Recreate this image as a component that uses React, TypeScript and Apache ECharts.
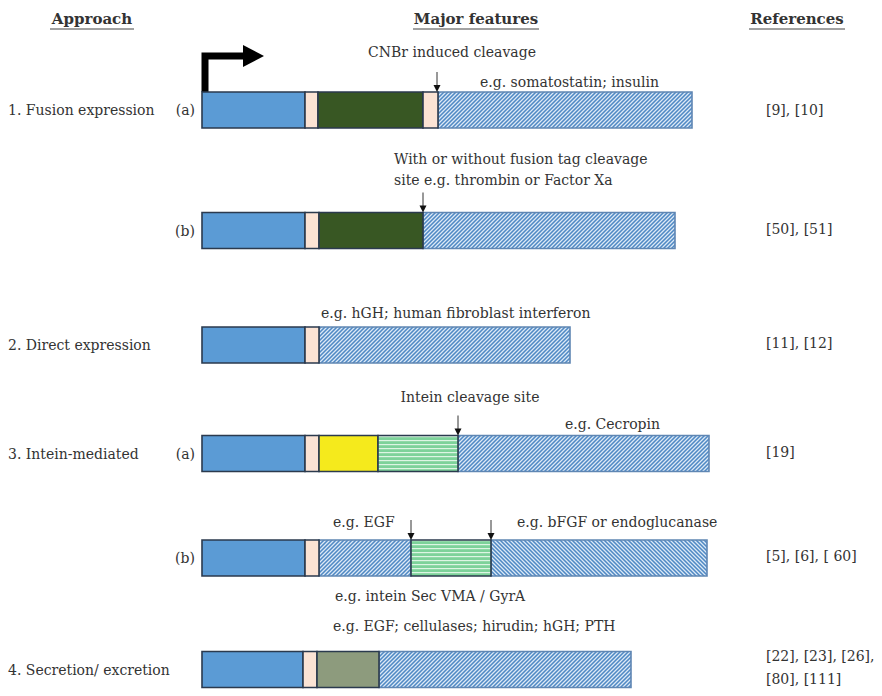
import React, { useEffect, useRef } from "react";
import * as echarts from "echarts";

// ---------- content ----------
const headers = ["Approach", "Major features", "References"];
const approachLabels = ["1. Fusion expression", "2. Direct expression", "3. Intein-mediated", "4. Secretion/ excretion"];
const approachRows = [0, 2, 3, 5];
const variantLabels = ["(a)", "(b)", "", "(a)", "(b)", ""];
const referenceLabels = ["[9], [10]", "[50], [51]", "[11], [12]", "[19]", "[5], [6], [ 60]", "[22], [23], [26],\n[80], [111]"];
const featureNotes = [
  "CNBr induced cleavage",
  "e.g. somatostatin; insulin",
  "With or without fusion tag cleavage\nsite e.g. thrombin or Factor Xa",
  "e.g. hGH; human fibroblast interferon",
  "Intein cleavage site",
  "e.g. Cecropin",
  "e.g. EGF",
  "e.g. bFGF or endoglucanase",
  "e.g. intein Sec VMA / GyrA",
  "e.g. EGF; cellulases; hirudin; hGH; PTH",
];

// segment kinds
const kinds = ["carrier", "linker", "fusion", "target", "tag", "intein", "targetRev", "signal"];

// construct segments per row: [kind, length in construct units]
const row1a: [string, number][] = [["carrier", 103], ["linker", 13], ["fusion", 105], ["linker", 15], ["target", 254]];
const row1b: [string, number][] = [["carrier", 103], ["linker", 14], ["fusion", 104], ["target", 252]];
const row2: [string, number][] = [["carrier", 103], ["linker", 14], ["target", 251]];
const row3a: [string, number][] = [["carrier", 103], ["linker", 14], ["tag", 59], ["intein", 80], ["target", 251]];
const row3b: [string, number][] = [["carrier", 103], ["linker", 14], ["target", 92], ["intein", 80], ["targetRev", 216]];
const row4: [string, number][] = [["carrier", 101], ["linker", 14], ["signal", 62], ["target", 252]];
const constructs = [row1a, row1b, row2, row3a, row3b, row4];

// cleavage sites: [row, position in construct units]
const cleavageSites: [number, number][] = [[0, 235], [1, 221], [3, 256], [4, 209], [4, 289]];

// ---------- layout ----------
const W = 882;
const H = 696;
const BAR_LEFT = 202;
const BAR_H = 36;
const rowCenters = [110, 230.5, 345, 453.5, 558, 669.5];
const headerPos: [number, number, number][] = [[92, 19, 84], [476, 19, 126], [797, 19, 96]];
const notePos: [number, number, string][] = [
  [452, 52, "center"],
  [480, 82, "left"],
  [394, 169, "left"],
  [321, 313, "left"],
  [470, 397, "center"],
  [565, 424, "left"],
  [333, 522, "left"],
  [517, 522, "left"],
  [335, 596, "left"],
  [333, 626, "left"],
];
const FONT = '"DejaVu Serif", Georgia, serif';
const TEXT = "#333333";

function hatch(dir: number, bg: string, fg: string, tile: number, lw: number) {
  const s = 4;
  const c = document.createElement("canvas");
  c.width = tile * s;
  c.height = tile * s;
  const g = c.getContext("2d")!;
  g.fillStyle = bg;
  g.fillRect(0, 0, c.width, c.height);
  g.strokeStyle = fg;
  g.lineWidth = lw * s;
  const t = tile * s;
  g.beginPath();
  if (dir > 0) {
    g.moveTo(-t, 2 * t); g.lineTo(2 * t, -t);
    g.moveTo(-t, t); g.lineTo(t, -t);
    g.moveTo(0, 2 * t); g.lineTo(2 * t, 0);
  } else {
    g.moveTo(-t, -t); g.lineTo(2 * t, 2 * t);
    g.moveTo(-t, 0); g.lineTo(t, 2 * t);
    g.moveTo(0, -t); g.lineTo(2 * t, t);
  }
  g.stroke();
  return { image: c.toDataURL(), imageWidth: tile, imageHeight: tile, repeat: "repeat" };
}

function stripes(bg: string, fg: string, tile: number, lw: number) {
  const s = 4;
  const c = document.createElement("canvas");
  c.width = tile * s;
  c.height = tile * s;
  const g = c.getContext("2d")!;
  g.fillStyle = bg;
  g.fillRect(0, 0, c.width, c.height);
  g.fillStyle = fg;
  g.fillRect(0, 0, c.width, lw * s);
  return { image: c.toDataURL(), imageWidth: tile, imageHeight: tile, repeat: "repeat" };
}

export default function App() {
  const ref = useRef<HTMLDivElement>(null);
  useEffect(() => {
    document.body.style.margin = "0";
    const chart = echarts.init(ref.current!, null, { renderer: "svg" });

    const fwd = hatch(1, "#DDEAF7", "#4F89C4", 4, 1.5);
    const rev = hatch(-1, "#DDEAF7", "#4F89C4", 4, 1.5);
    const grn = stripes("#7DD29A", "#DDF5E4", 4, 1.2);
    const fills: Record<string, any> = {
      carrier: "#5B9BD5",
      linker: "#FBE3D4",
      fusion: "#385723",
      target: fwd,
      tag: "#F5EA1C",
      intein: grn,
      targetRev: rev,
      signal: "#8D9B7D",
    };
    const strokes: Record<string, string> = {
      carrier: "#2B3A4E",
      linker: "#2B3A4E",
      fusion: "#2B3A4E",
      target: "#5F86B3",
      tag: "#2B3A4E",
      intein: "#2B3A4E",
      targetRev: "#5F86B3",
      signal: "#2B3A4E",
    };

    const segData: number[][] = [];
    constructs.forEach((segs, row) => {
      let pos = 0;
      segs.forEach(([kind, len]) => {
        segData.push([pos, pos + len, row, kinds.indexOf(kind)]);
        pos += len;
      });
    });
    // draw hatched (lighter border) first so solid borders sit on top
    segData.sort((a, b) => {
      const ha = kinds[a[3]] === "target" || kinds[a[3]] === "targetRev" ? 0 : 1;
      const hb = kinds[b[3]] === "target" || kinds[b[3]] === "targetRev" ? 0 : 1;
      return ha - hb;
    });

    const siteData = cleavageSites.map(([row, p]) => [p, row]);

    const graphic: any[] = [];
    headers.forEach((h, i) => {
      const [x, y, w] = headerPos[i];
      graphic.push({
        type: "text", x, y,
        style: { text: h, fill: "#333", font: `bold 15px ${FONT}`, textAlign: "center", textVerticalAlign: "middle" },
      });
      graphic.push({
        type: "line",
        shape: { x1: x - w / 2, y1: y + 10, x2: x + w / 2, y2: y + 10 },
        style: { stroke: "#444", lineWidth: 1 },
      });
    });
    approachLabels.forEach((t, i) => {
      graphic.push({
        type: "text", x: 8, y: rowCenters[approachRows[i]],
        style: { text: t, fill: TEXT, font: `14px ${FONT}`, textAlign: "left", textVerticalAlign: "middle" },
      });
    });
    variantLabels.forEach((t, i) => {
      if (!t) return;
      graphic.push({
        type: "text", x: 195, y: rowCenters[i],
        style: { text: t, fill: TEXT, font: `14px ${FONT}`, textAlign: "right", textVerticalAlign: "middle" },
      });
    });
    referenceLabels.forEach((t, i) => {
      graphic.push({
        type: "text", x: 766, y: rowCenters[i] - (i === 0 ? 0 : 2),
        style: { text: t, fill: TEXT, font: `14px ${FONT}`, textAlign: "left", textVerticalAlign: "middle", lineHeight: 23 },
      });
    });
    featureNotes.forEach((t, i) => {
      const [x, y, align] = notePos[i];
      graphic.push({
        type: "text", x, y,
        style: { text: t, fill: TEXT, font: `14px ${FONT}`, textAlign: align, textVerticalAlign: "middle", lineHeight: 21 },
      });
    });
    // promoter arrow
    graphic.push({
      type: "polyline",
      shape: { points: [[205, 92], [205, 56], [246, 56]] },
      style: { stroke: "#000", lineWidth: 7, fill: null, lineJoin: "miter", lineCap: "butt" },
    });
    graphic.push({
      type: "polygon",
      shape: { points: [[243, 45], [264, 56], [243, 67]] },
      style: { fill: "#000" },
    });

    chart.setOption({
      animation: false,
      backgroundColor: "#fff",
      grid: { left: BAR_LEFT, right: 0, top: 0, bottom: 0 },
      xAxis: { type: "value", min: 0, max: W - BAR_LEFT, show: false },
      yAxis: { type: "value", min: 0, max: H, inverse: true, show: false },
      graphic,
      series: [
        {
          type: "custom",
          clip: false,
          data: segData,
          encode: { x: [0, 1], y: 2 },
          renderItem: (params: any, api: any) => {
            const s = api.value(0);
            const e = api.value(1);
            const row = api.value(2);
            const kind = kinds[api.value(3)];
            const p0 = api.coord([s, rowCenters[row]]);
            const p1 = api.coord([e, rowCenters[row]]);
            return {
              type: "rect",
              shape: { x: p0[0], y: p0[1] - BAR_H / 2, width: p1[0] - p0[0], height: BAR_H },
              style: { fill: fills[kind], stroke: strokes[kind], lineWidth: 1.6 },
            };
          },
        },
        {
          type: "custom",
          clip: false,
          data: siteData,
          encode: { x: 0, y: 1 },
          renderItem: (params: any, api: any) => {
            const p = api.value(0);
            const row = api.value(1);
            const pt = api.coord([p, rowCenters[row]]);
            const top = pt[1] - BAR_H / 2;
            return {
              type: "group",
              children: [
                { type: "line", shape: { x1: pt[0], y1: top - 20, x2: pt[0], y2: top - 6 }, style: { stroke: "#333", lineWidth: 1 } },
                { type: "polygon", shape: { points: [[pt[0] - 3.5, top - 7], [pt[0] + 3.5, top - 7], [pt[0], top]] }, style: { fill: "#111" } },
              ],
            };
          },
        },
      ],
    });
    return () => chart.dispose();
  }, []);
  return <div ref={ref} style={{ width: W, height: H }} />;
}
